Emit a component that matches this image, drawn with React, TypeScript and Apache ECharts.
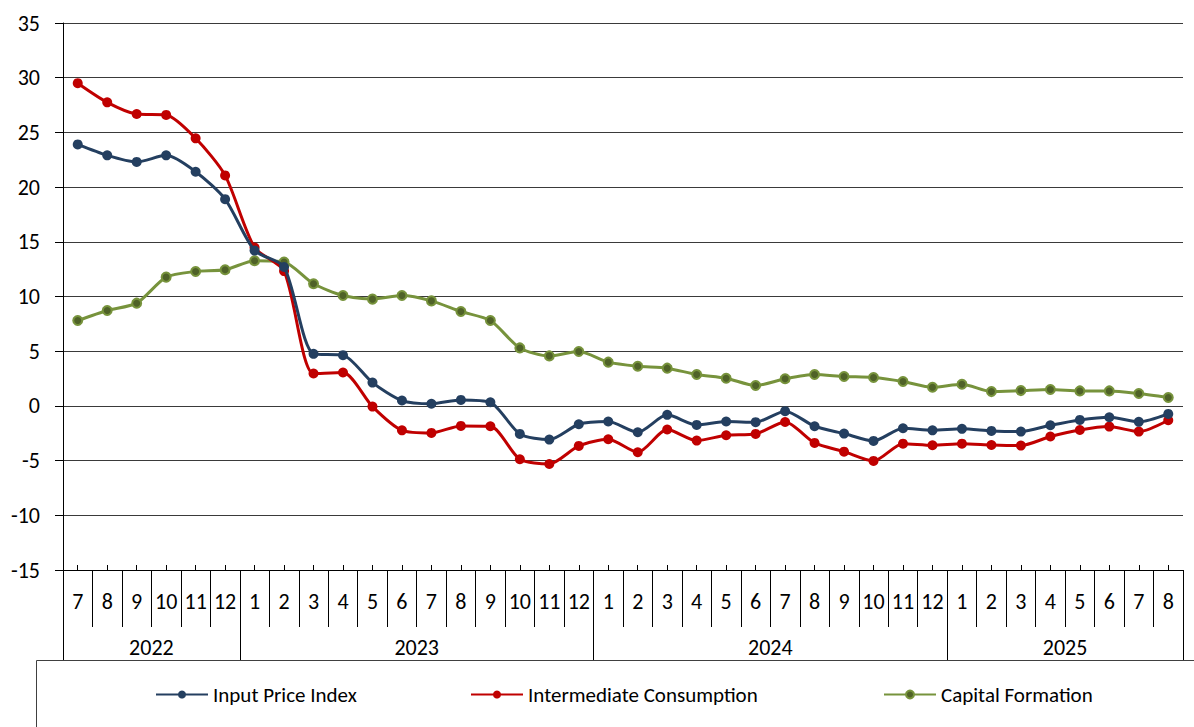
import React, { useEffect, useRef } from "react";
import * as echarts from "echarts";

const years = ["2022", "2023", "2024", "2025"];
const yearMonths = [
  ["7", "8", "9", "10", "11", "12"],
  ["1", "2", "3", "4", "5", "6", "7", "8", "9", "10", "11", "12"],
  ["1", "2", "3", "4", "5", "6", "7", "8", "9", "10", "11", "12"],
  ["1", "2", "3", "4", "5", "6", "7", "8"],
];
const months = yearMonths.flat();

const seriesNames = ["Input Price Index", "Intermediate Consumption", "Capital Formation"];

const inputPriceIndex = [
  23.9, 22.9, 22.3, 22.9, 21.4, 18.9,
  14.2, 12.7, 4.76, 4.64, 2.13, 0.49, 0.2, 0.55, 0.33, -2.56, -3.08, -1.68,
  -1.43, -2.41, -0.82, -1.74, -1.43, -1.49, -0.48, -1.86, -2.53, -3.2, -2.04, -2.23,
  -2.1, -2.29, -2.35, -1.77, -1.28, -1.04, -1.46, -0.73,
];
const intermediateConsumption = [
  29.5, 27.75, 26.68, 26.6, 24.46, 21.07,
  14.48, 12.32, 2.96, 3.05, -0.06, -2.23, -2.47, -1.83, -1.86, -4.88, -5.31, -3.66,
  -3.05, -4.24, -2.16, -3.17, -2.68, -2.56, -1.47, -3.38, -4.18, -5.03, -3.45, -3.6,
  -3.45, -3.57, -3.63, -2.8, -2.2, -1.89, -2.35, -1.31,
];
const capitalFormation = [
  7.8, 8.72, 9.39, 11.77, 12.29, 12.44,
  13.27, 13.15, 11.16, 10.09, 9.76, 10.09, 9.6, 8.63, 7.8, 5.3, 4.57, 4.97,
  4.0, 3.63, 3.45, 2.87, 2.53, 1.86, 2.48, 2.87, 2.69, 2.6, 2.23, 1.7,
  1.98, 1.31, 1.4, 1.5, 1.37, 1.37, 1.13, 0.77,
];

const yTicks = { min: -15, max: 35, interval: 5 };

const FONT = "Carlito, Calibri, Lato, sans-serif";

export default function App() {
  const ref = useRef<HTMLDivElement>(null);

  useEffect(() => {
    if (!ref.current) return;
    const chart = echarts.init(ref.current, null, { renderer: "svg" });

    const spans = yearMonths.map((m) => m.length);
    const bounds: number[] = [0];
    spans.forEach((s) => bounds.push(bounds[bounds.length - 1] + s));
    const centers = spans.map((s, i) => bounds[i] + s / 2);
    const total = months.length;

    const colors = ["#243F60", "#C00000", "#77933C"];
    const data = [inputPriceIndex, intermediateConsumption, capitalFormation];

    const series = data.map((d, i) => ({
      name: seriesNames[i],
      type: "line",
      data: d,
      xAxisIndex: 0,
      yAxisIndex: 0,
      smooth: 0.25,
      symbol: "circle",
      symbolSize: i === 2 ? 9 : 10,
      lineStyle: { color: colors[i], width: 3 },
      itemStyle:
        i === 2
          ? { color: "#4F6228", borderColor: "#77933C", borderWidth: 2 }
          : { color: colors[i], borderWidth: 0 },
      z: 10 - i,
    }));

    const legendLefts = [150, 465, 878];
    const legends = seriesNames.map((n, i) => ({
      data: [n],
      left: legendLefts[i],
      top: 679,
      itemWidth: 52,
      itemHeight: 10,
      itemGap: 5,
      textStyle: { fontSize: 21, color: "#000", fontFamily: FONT },
    }));

    chart.setOption({
      animation: false,
      backgroundColor: "#fff",
      textStyle: { fontFamily: FONT },
      grid: { left: 63, right: 11, top: 23, bottom: 157, containLabel: false },
      legend: legends,
      xAxis: [
        {
          type: "category",
          data: months,
          boundaryGap: true,
          position: "bottom",
          axisLine: { show: true, onZero: false, lineStyle: { color: "#000", width: 1 } },
          axisTick: { show: true, interval: 0, length: 57, lineStyle: { color: "#000" } },
          axisLabel: { interval: 0, fontSize: 22, color: "#000", margin: 20, fontFamily: FONT },
          splitLine: { show: false },
        },
        {
          type: "category",
          data: months,
          boundaryGap: true,
          position: "bottom",
          axisLine: { show: false, onZero: false },
          axisTick: { show: true, interval: 0, alignWithLabel: true, inside: true, length: 5, lineStyle: { color: "#000" } },
          axisLabel: { show: false },
          splitLine: { show: false },
        },
        {
          type: "value",
          min: 0,
          max: total,
          position: "bottom",
          axisLine: { show: false, onZero: false },
          axisTick: { show: true, customValues: bounds, length: 90, lineStyle: { color: "#000" } },
          axisLabel: {
            show: true,
            customValues: centers,
            formatter: (v: number) => {
              const idx = centers.findIndex((c) => Math.abs(c - v) < 1e-6);
              return idx >= 0 ? years[idx] : "";
            },
            fontSize: 22,
            color: "#000",
            margin: 66,
            fontFamily: FONT,
          },
          splitLine: { show: false },
        },
      ],
      yAxis: {
        type: "value",
        min: yTicks.min,
        max: yTicks.max,
        interval: yTicks.interval,
        axisLine: { show: true, lineStyle: { color: "#000", width: 1 } },
        axisTick: { show: true, length: 8, lineStyle: { color: "#000" } },
        axisLabel: { fontSize: 22, color: "#000", margin: 23, fontFamily: FONT },
        splitLine: { show: true, lineStyle: { color: "#3a3a3a", width: 1 } },
      },
      graphic: [
        {
          type: "rect",
          shape: { x: 36.5, y: 660.5, width: 1200, height: 100 },
          style: { fill: "none", stroke: "#404040", lineWidth: 1 },
          silent: true,
        },
      ],
      series,
    });

    return () => chart.dispose();
  }, []);

  return (
    <div
      ref={ref}
      style={{ position: "fixed", left: 0, top: 0, width: 1194, height: 727 }}
    />
  );
}
